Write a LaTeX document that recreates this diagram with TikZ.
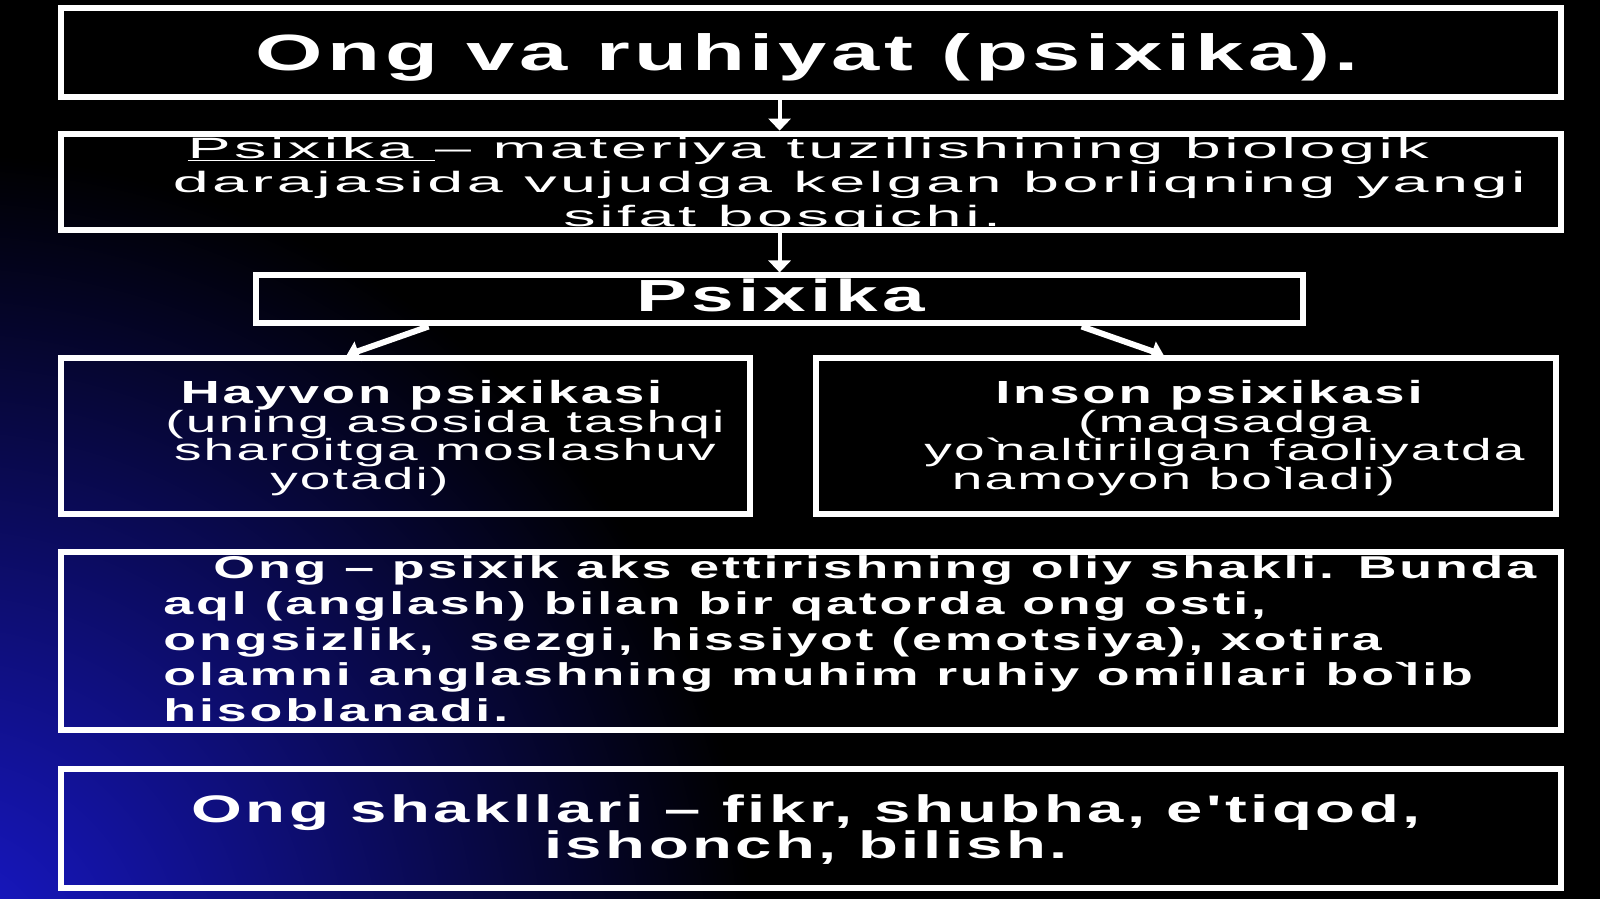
\documentclass[tikz,border=0pt]{standalone}
\usepackage{fontspec}
\setmainfont{Liberation Sans}
\newfontfamily\widebold{Liberation Sans}[FakeStretch=1.7,LetterSpace=9]
\newfontfamily\widereg{Liberation Sans}[FakeStretch=2.2,LetterSpace=12]
\newfontfamily\widemid{Liberation Sans}[FakeStretch=1.8,LetterSpace=7]
\usetikzlibrary{arrows.meta}
\definecolor{glowblue}{RGB}{25,25,210}
\newcommand{\topstrut}{\rule{0pt}{0.8em}}
\newcommand{\tightlines}{\setlength{\lineskiplimit}{-50pt}\setlength{\lineskip}{0pt}}

\begin{document}
\begin{tikzpicture}[x=1.0204pt, y=-1.0204pt,
    panel/.style = {draw=white, line width=6pt, inner sep=0pt},
    txt/.style = {text=white, inner sep=0pt, align=center},
    arrow/.style = {white, line width=4pt, -{Triangle[width=22pt,length=12pt]}},
    slant/.style = {white, line width=6pt, -{Triangle[width=20pt,length=12pt]}}]
	\useasboundingbox (0,0) rectangle (1568,881);
	\fill[black] (0,0) rectangle (1568,881);
	\begin{scope}
	\clip (0,0) rectangle (1568,881);
	\shade[inner color=glowblue, outer color=black] (-60,950) circle (800);
	\end{scope}

	% boxes
	\node [panel, minimum width=1500, minimum height=89] (title) at (795, 51.5) {};
	\node [panel, minimum width=1500, minimum height=96] (defn) at (795, 178) {};
	\node [panel, minimum width=1047, minimum height=48] (psy) at (764, 293.5) {};
	\node [panel, minimum width=689, minimum height=156] (animal) at (397.5, 427.5) {};
	\node [panel, minimum width=740, minimum height=156] (human) at (1162.5, 427.5) {};
	\node [panel, minimum width=1500, minimum height=178] (ong) at (795, 628) {};
	\node [panel, minimum width=1500, minimum height=119] (forms) at (795, 811.5) {};

	% texts
	\node [txt, anchor=base, font=\widebold\bfseries\fontsize{51}{57}\selectfont] (titletext) at (791, 69) {Ong va ruhiyat (psixika).};
	\node [txt, anchor=north, font=\widereg\fontsize{29.4}{34}\selectfont\tightlines] (defntext) at (800, 131.8)
	    {\topstrut\underline{Psixika\ }– materiya tuzilishining biologik\hspace*{16pt}\\ \hspace*{66pt}darajasida vujudga kelgan borliqning yangi\\ sifat bosqichi.\hspace*{68pt}};
	\node [txt, anchor=base, font=\widebold\bfseries\fontsize{45}{49}\selectfont] (psytext) at (765, 305) {Psixika};
	\node [txt, anchor=north, font=\widemid\fontsize{30.6}{28.6}\selectfont\tightlines] (animaltext) at (436, 370.4)
	    {{\widebold\bfseries\fontsize{32}{28.6}\selectfont\topstrut Hayvon psixikasi\hspace*{47pt}}\\ (uning asosida tashqi\\ sharoitga moslashuv\\ yotadi)\hspace*{171pt}};
	\node [txt, anchor=north, font=\widemid\fontsize{30.6}{28.6}\selectfont\tightlines] (humantext) at (1200, 370.4)
	    {{\widebold\bfseries\fontsize{32}{28.6}\selectfont\topstrut Inson psixikasi\hspace*{31pt}}\\ (maqsadga\\ yo\textasciigrave naltirilgan faoliyatda\\ namoyon bo\textasciigrave ladi)\hspace*{102pt}};
	\node [txt, anchor=north west, align=left, font=\widebold\bfseries\fontsize{31.6}{35.7}\selectfont] (ongtext) at (160, 542.2)
	    {\topstrut\hspace*{50pt}Ong – psixik aks ettirishning oliy shakli. Bunda\\ aql (anglash) bilan bir qatorda ong osti,\\ ongsizlik,\ \ sezgi, hissiyot (emotsiya), xotira\\ olamni anglashning muhim ruhiy omillari bo\textasciigrave lib\\ hisoblanadi.};
	\node [txt, anchor=north, font=\widebold\bfseries\fontsize{38.4}{35.5}\selectfont\tightlines] (formstext) at (790, 775.9)
	    {\topstrut Ong shakllari – fikr, shubha, e'tiqod,\\ ishonch, bilish.};

	% arrows
	\draw[arrow] (title.south -| psy) -- (defn.north -| psy);
	\draw[arrow] (defn.south -| psy) -- (psy.north);
	\draw[slant] ([xshift=-351pt]psy.south) -- ([xshift=-59pt]animal.north);
	\draw[slant] ([xshift=302pt]psy.south) -- ([xshift=-22.5pt]human.north);
\end{tikzpicture}
\end{document}
